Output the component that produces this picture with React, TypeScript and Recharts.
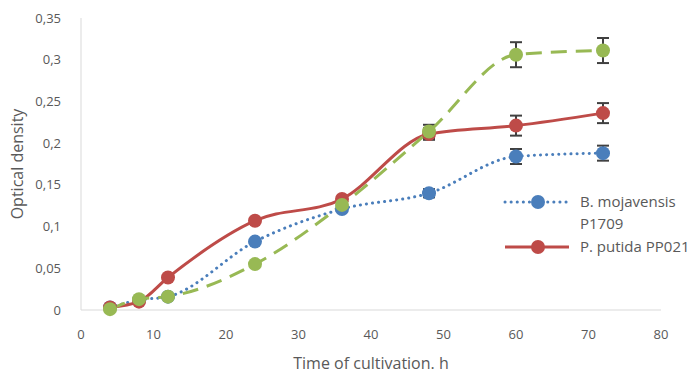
import { LineChart, Line, XAxis, YAxis, ErrorBar } from "recharts";

const hours = [4, 8, 12, 24, 36, 48, 60, 72];
const mojavensis = [0.003, 0.012, 0.016, 0.082, 0.121, 0.14, 0.184, 0.188];
const mojavensisErr = [null, null, null, null, null, 0.005, 0.009, 0.009];
const putida = [0.003, 0.01, 0.039, 0.107, 0.133, 0.211, 0.221, 0.236];
const putidaErr = [null, null, null, null, null, 0.007, 0.012, 0.012];
const mixed = [0.001, 0.013, 0.016, 0.055, 0.126, 0.214, 0.306, 0.311];
const mixedErr = [null, null, null, null, null, 0.008, 0.015, 0.015];

const xTicks = [0, 10, 20, 30, 40, 50, 60, 70, 80];
const yTicks = [0, 0.05, 0.1, 0.15, 0.2, 0.25, 0.3, 0.35];

const BLUE = "#4a7ebb";
const RED = "#be4b48";
const GREEN = "#98b954";
const TEXT = "#595959";
const FONT = "'Open Sans', sans-serif";

const data = hours.map((t, i) => ({
  t,
  moj: mojavensis[i],
  mojErr: mojavensisErr[i],
  put: putida[i],
  putErr: putidaErr[i],
  mix: mixed[i],
  mixErr: mixedErr[i],
}));

const fmt = (v: number) => String(v).replace(".", ",");

// legend only lists the first two series, like the source figure
function LegendBox() {
  return (
    <svg width={200} height={80} style={{ position: "absolute", left: 503, top: 190, fontFamily: FONT }}>
      <line x1={2} y1={12} x2={66} y2={12} stroke={BLUE} strokeWidth={3} strokeDasharray="0.1 6" strokeLinecap="round" />
      <circle cx={35} cy={12} r={7} fill={BLUE} />
      <text x={77} y={17} fontSize={15} fill={TEXT}>B. mojavensis</text>
      <text x={77} y={39} fontSize={15} fill={TEXT}>P1709</text>
      <line x1={2} y1={57} x2={66} y2={57} stroke={RED} strokeWidth={3} />
      <circle cx={35} cy={57} r={7} fill={RED} />
      <text x={77} y={62} fontSize={15} fill={TEXT}>P. putida PP021</text>
    </svg>
  );
}

export default function App() {
  return (
    <div style={{ position: "fixed", left: 0, top: 0, width: 700, height: 376, background: "#fff" }}>
      <LineChart width={700} height={376} data={data} margin={{ top: 18, right: 39, bottom: 16, left: 0 }}>
        <XAxis
          type="number"
          dataKey="t"
          domain={[0, 80]}
          ticks={xTicks}
          height={50}
          tickLine={false}
          stroke="#d9d9d9"
          tick={{ fill: TEXT, fontSize: 13, fontFamily: FONT }}
          tickMargin={14}
          label={{ value: "Time of cultivation. h", position: "bottom", offset: -2, fill: TEXT, fontSize: 16, fontFamily: FONT }}
        />
        <YAxis
          domain={[0, 0.35]}
          ticks={yTicks}
          width={81}
          tickLine={false}
          stroke="#d9d9d9"
          tickFormatter={fmt}
          tick={{ fill: TEXT, fontSize: 13, fontFamily: FONT }}
          tickMargin={14}
          label={{ value: "Optical density", angle: -90, position: "insideLeft", offset: 17, fill: TEXT, fontSize: 16, fontFamily: FONT, style: { textAnchor: "middle" } }}
        />
        <Line
          type="monotone"
          dataKey="moj"
          stroke={BLUE}
          strokeWidth={3}
          strokeDasharray="0.1 6"
          strokeLinecap="round"
          dot={{ r: 7, fill: BLUE, stroke: BLUE, strokeWidth: 0, strokeDasharray: "" }}
          isAnimationActive={false}
        >
          <ErrorBar dataKey="mojErr" width={6} stroke="#404040" strokeWidth={2} />
        </Line>
        <Line
          type="monotone"
          dataKey="put"
          stroke={RED}
          strokeWidth={3}
          dot={{ r: 7, fill: RED, stroke: RED, strokeWidth: 0 }}
          isAnimationActive={false}
        >
          <ErrorBar dataKey="putErr" width={6} stroke="#404040" strokeWidth={2} />
        </Line>
        <Line
          type="monotone"
          dataKey="mix"
          stroke={GREEN}
          strokeWidth={3}
          strokeDasharray="16 9"
          dot={{ r: 7, fill: GREEN, stroke: GREEN, strokeWidth: 0, strokeDasharray: "" }}
          isAnimationActive={false}
        >
          <ErrorBar dataKey="mixErr" width={6} stroke="#404040" strokeWidth={2} />
        </Line>
      </LineChart>
      <LegendBox />
    </div>
  );
}
